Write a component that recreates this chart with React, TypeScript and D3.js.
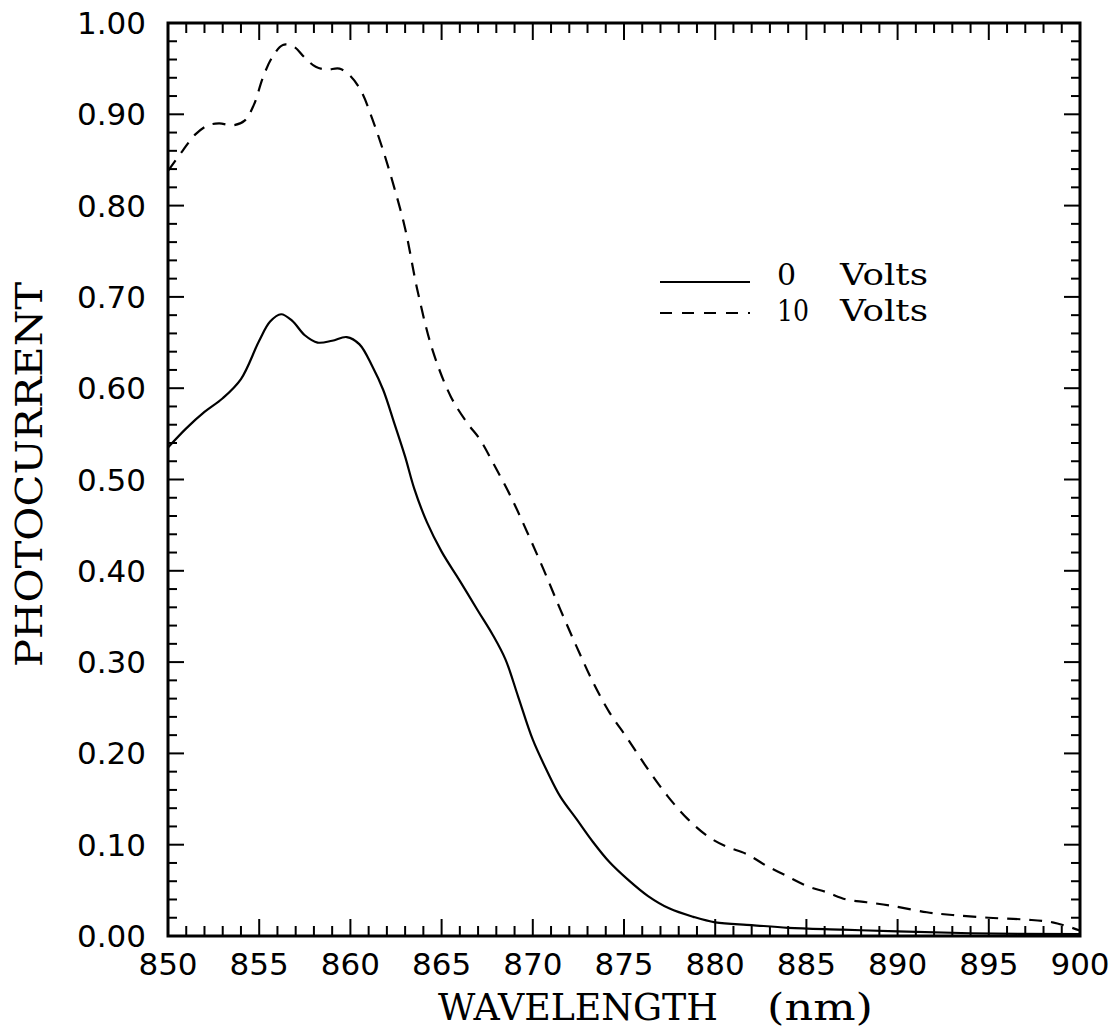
import React from "react";
import * as d3 from "d3";

const wl0 = [850, 851, 852, 853, 854, 855, 855.6, 856.2, 856.8, 857.5, 858.2, 859, 859.8, 860.5, 861.2, 861.8, 862.4, 863, 863.5, 864.2, 865, 866, 867, 867.8, 868.5, 869.2, 870, 870.8, 871.5, 872.4, 873.3, 874.2, 875.2, 876.3, 877.5, 878.8, 880, 882, 884, 887, 890, 894, 900];
const v0 = [0.535, 0.556, 0.574, 0.589, 0.61, 0.652, 0.673, 0.681, 0.674, 0.658, 0.65, 0.652, 0.656, 0.648, 0.624, 0.598, 0.562, 0.525, 0.49, 0.453, 0.421, 0.389, 0.356, 0.33, 0.303, 0.262, 0.215, 0.18, 0.153, 0.128, 0.103, 0.081, 0.062, 0.044, 0.03, 0.021, 0.015, 0.012, 0.009, 0.007, 0.005, 0.003, 0.002];

const wl10 = [850, 850.8, 851.5, 852.2, 852.8, 853.6, 854.2, 854.7, 855.2, 855.7, 856.3, 856.9, 857.5, 858.1, 858.7, 859.4, 860, 860.6, 861.2, 861.8, 862.4, 863, 863.7, 864.5, 865.5, 866.4, 867.1, 867.8, 868.8, 869.7, 870.6, 871.5, 872.4, 873.3, 874.2, 875.2, 876.3, 877.4, 878.5, 879.6, 880.6, 881.7, 882.8, 883.9, 885, 886.1, 887.2, 888.3, 889.7, 891.6, 893, 895, 897, 898.5, 900];
const v10 = [0.838, 0.86, 0.878, 0.888, 0.89, 0.888, 0.893, 0.91, 0.94, 0.962, 0.976, 0.974, 0.962, 0.952, 0.949, 0.95, 0.942, 0.925, 0.895, 0.86, 0.82, 0.775, 0.705, 0.642, 0.591, 0.562, 0.544, 0.519, 0.481, 0.442, 0.401, 0.358, 0.317, 0.278, 0.245, 0.216, 0.183, 0.153, 0.128, 0.109, 0.098, 0.09, 0.077, 0.066, 0.055, 0.048, 0.04, 0.037, 0.033, 0.026, 0.023, 0.02, 0.018, 0.015, 0.006];

const xTickLabels = ["850", "855", "860", "865", "870", "875", "880", "885", "890", "895", "900"];
const yTickLabels = ["0.00", "0.10", "0.20", "0.30", "0.40", "0.50", "0.60", "0.70", "0.80", "0.90", "1.00"];
const seriesNames = ["0", "10"];
const unitLabel = "Volts";

const W = 1115;
const H = 1033;
const L = 168, R = 1080, T = 23, B = 936;

export default function App() {
  const x = d3.scaleLinear().domain([850, 900]).range([L, R]);
  const y = d3.scaleLinear().domain([0, 1]).range([B, T]);
  const line = d3
    .line<[number, number]>()
    .x((d) => x(d[0]))
    .y((d) => y(d[1]))
    .curve(d3.curveCatmullRom.alpha(0.5));
  const d0 = line(wl0.map((w, i) => [w, v0[i]] as [number, number])) || "";
  const d10 = line(wl10.map((w, i) => [w, v10[i]] as [number, number])) || "";

  const xt = d3.range(851, 900, 1);
  const yt = d3.range(1, 50, 1).map((k) => k * 0.02);

  const tickFont = "'DejaVu Sans', sans-serif";
  const titleFont = "'DejaVu Serif', serif";
  const legFont = "'DejaVu Serif', serif";

  return (
    <svg
      width={W}
      height={H}
      style={{ position: "absolute", left: 0, top: 0, background: "#fff" }}
    >
      <rect x={0} y={0} width={W} height={H} fill="#fff" />
      {/* ticks */}
      <g stroke="#000" strokeWidth={2}>
        {xt.map((v) => {
          const maj = Math.round(v) % 5 === 0;
          const len = maj ? 17 : 10;
          return (
            <g key={"x" + v}>
              <line x1={x(v)} x2={x(v)} y1={B} y2={B - len} />
              <line x1={x(v)} x2={x(v)} y1={T} y2={T + len} />
            </g>
          );
        })}
        {yt.map((v, i) => {
          const maj = (i + 1) % 5 === 0;
          const len = maj ? 16 : 9;
          return (
            <g key={"y" + i}>
              <line x1={L} x2={L + len} y1={y(v)} y2={y(v)} />
              <line x1={R} x2={R - len} y1={y(v)} y2={y(v)} />
            </g>
          );
        })}
      </g>
      <rect x={L} y={T} width={R - L} height={B - T} fill="none" stroke="#000" strokeWidth={3} />

      {/* curves */}
      <path d={d0} fill="none" stroke="#000" strokeWidth={2.2} />
      <path d={d10} fill="none" stroke="#000" strokeWidth={2.2} strokeDasharray="13,9" />

      {/* tick labels */}
      {xTickLabels.map((t) => (
        <text
          key={"xl" + t}
          x={x(+t)}
          y={975}
          textAnchor="middle"
          fontFamily={tickFont}
          fontSize={31}
          fill="#000"
        >
          {t}
        </text>
      ))}
      {yTickLabels.map((t) => (
        <text
          key={"yl" + t}
          x={146}
          y={y(+t) + 11}
          textAnchor="end"
          fontFamily={tickFont}
          fontSize={31}
          fill="#000"
        >
          {t}
        </text>
      ))}

      {/* axis titles */}
      <text x={438} y={1020} fontFamily={titleFont} fontSize={38} fill="#000" textLength={280} lengthAdjust="spacingAndGlyphs">
        WAVELENGTH
      </text>
      <text x={767} y={1020} fontFamily={titleFont} fontSize={38} fill="#000" textLength={106} lengthAdjust="spacingAndGlyphs">
        (nm)
      </text>
      <text
        transform={`translate(42,667) rotate(-90)`}
        fontFamily={titleFont}
        fontSize={38}
        fill="#000"
        textLength={385}
        lengthAdjust="spacingAndGlyphs"
      >
        PHOTOCURRENT
      </text>

      {/* legend */}
      <line x1={660} x2={750} y1={282} y2={282} stroke="#000" strokeWidth={2.2} />
      <line x1={660} x2={750} y1={313} y2={313} stroke="#000" strokeWidth={2.2} strokeDasharray="12,10" />
      <text x={777} y={285} fontFamily={legFont} fontSize={30} fill="#000">{seriesNames[0]}</text>
      <text x={840} y={285} fontFamily={legFont} fontSize={30} fill="#000" textLength={88} lengthAdjust="spacingAndGlyphs">{unitLabel}</text>
      <text x={777} y={321} fontFamily={legFont} fontSize={30} fill="#000" textLength={32} lengthAdjust="spacingAndGlyphs">{seriesNames[1]}</text>
      <text x={840} y={321} fontFamily={legFont} fontSize={30} fill="#000" textLength={88} lengthAdjust="spacingAndGlyphs">{unitLabel}</text>
    </svg>
  );
}
